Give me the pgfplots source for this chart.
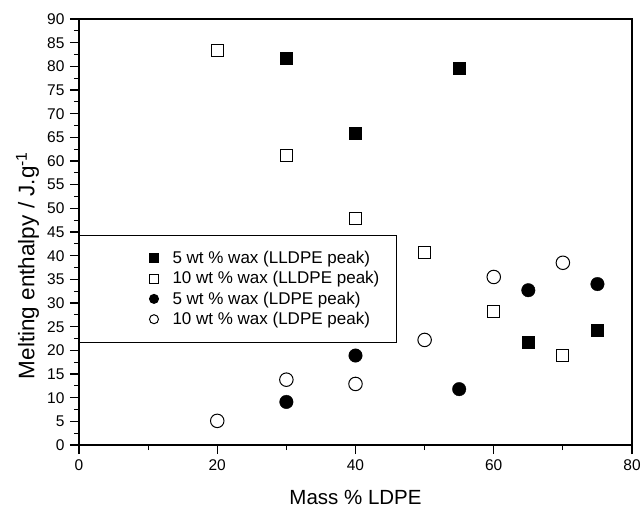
\documentclass[border=0pt]{standalone}
\usepackage{pgfplots}
\pgfplotsset{compat=1.18}
\usepackage{fontspec}
\setmainfont{Liberation Sans}
\begin{document}
\begin{tikzpicture}
\begin{axis}[
  name=ax,
  scale only axis,
  width=553pt, height=426pt,
  xmin=0, xmax=80, ymin=0, ymax=90,
  xtick={0,20,...,80}, minor xtick={10,30,50,70},
  ytick={0,5,...,90}, minor ytick={2.5,7.5,...,87.5},
  tick align=outside,
  xtick pos=left, ytick pos=left,
  major tick length=9pt, minor tick length=5pt,
  axis line style={line width=1.5pt},
  every tick/.style={black, line width=1.2pt},
  tick label style={font=\fontsize{15.5}{18}\selectfont},
  xticklabel style={yshift=-2pt},
  yticklabel style={xshift=-2pt},
  /pgf/number format/assume math mode=true,
  xlabel={Mass \% LDPE},
  ylabel={Melting enthalpy / J.g\textsuperscript{-1}},
  xlabel style={font=\fontsize{20.5}{24}\selectfont, at={(axis description cs:0.5,-0.1237)}, anchor=center},
  ylabel style={font=\fontsize{22.5}{26}\selectfont, at={(axis description cs:-0.0931,0.4214)}, anchor=center},
  legend style={at={(axis cs:0,44.4)}, anchor=north west, draw=black, line width=1pt,
    inner xsep=15pt, inner ysep=15pt, row sep=4.5pt,
    font=\fontsize{17}{20}\selectfont, nodes={inner ysep=1pt}},
  legend cell align=left,
  legend image code/.code={\path (-59pt,0pt) (16pt,0pt); \draw[#1,mark size=4.5pt] plot coordinates {(0pt,0pt)};},
]
\addplot[only marks, mark=square*, mark size=6pt, black] coordinates {
(30,81.7) (40,65.9) (55,79.7) (65,21.7) (75,24.2)};
\addlegendentry{5 wt \% wax (LLDPE peak)}
\addplot[only marks, mark=square, mark size=6pt, black, line width=1pt] coordinates {
(20,83.3) (30,61.1) (40,47.8) (50,40.7) (60,28.1) (70,19.0)};
\addlegendentry{10 wt \% wax (LLDPE peak)}
\addplot[only marks, mark=*, mark size=6.75pt, black] coordinates {
(30,9.1) (40,18.9) (55,11.8) (65,32.7) (75,34.0)};
\addlegendentry{5 wt \% wax (LDPE peak)}
\addplot[only marks, mark=o, mark size=6.75pt, black, line width=1pt] coordinates {
(20,5.1) (30,13.8) (40,12.9) (50,22.2) (60,35.5) (70,38.5)};
\addlegendentry{10 wt \% wax (LDPE peak)}
\end{axis}
\pgfresetboundingbox
\path[use as bounding box] ([shift={(-79pt,-63pt)}]ax.south west) rectangle ([shift={(9pt,19pt)}]ax.north east);
\end{tikzpicture}
\end{document}
